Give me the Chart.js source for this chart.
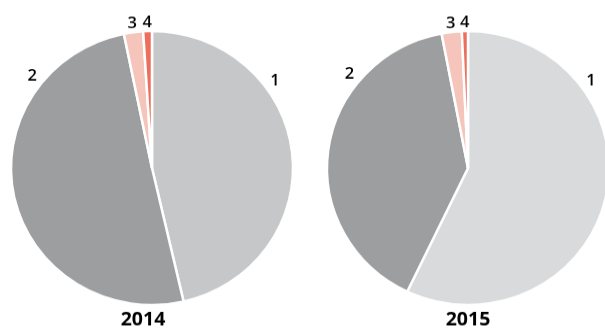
<!DOCTYPE html>
<html>
<head>
<meta charset="utf-8">
<script src="https://cdn.jsdelivr.net/npm/chart.js@4/dist/chart.umd.min.js"></script>
<style>
  html, body { margin: 0; padding: 0; background: #fff; overflow: hidden; width: 605px; height: 329px; }
  .wrap { position: absolute; top: 0; width: 305px; height: 339px; transform: scaleY(0.9714); transform-origin: 0 0; }
  canvas { display: block; }
</style>
</head>
<body>
<div class="wrap" style="left:0"><canvas id="c1" width="305" height="339"></canvas></div>
<div class="wrap" style="left:305px"><canvas id="c2" width="305" height="339"></canvas></div>
<script>
// ---- data ----
const categories = ['1', '2', '3', '4'];
const years = ['2014', '2015'];
const values2014 = [46.4, 50.4, 2.2, 1.0];
const values2015 = [57.1, 39.9, 2.3, 0.7];
const colors2014 = ['#c6c7c9', '#9d9ea0', '#f5c4bb', '#ec6f5e'];
const colors2015 = ['#d9dadc', '#9d9ea0', '#f5c4bb', '#ec6f5e'];

const deg = Math.PI / 180;

const labelPlugin = {
  id: 'sliceLabels',
  afterDatasetsDraw(chart, args, opts) {
    const ctx = chart.ctx;
    const meta = chart.getDatasetMeta(0);
    ctx.save();
    ctx.fillStyle = '#000';
    ctx.font = '600 16.5px "Open Sans", sans-serif';
    ctx.textAlign = 'center';
    ctx.textBaseline = 'middle';
    meta.data.forEach((arc, i) => {
      const p = arc.getProps(['x', 'y', 'startAngle', 'endAngle', 'outerRadius'], true);
      let a, r;
      if (i === 0) { a = p.startAngle + 54 * deg; r = p.outerRadius + 11; }
      else if (i === 1) { a = p.endAngle - 40 * deg; r = p.outerRadius + 12; }
      else { a = (p.startAngle + p.endAngle) / 2; r = p.outerRadius + 9; }
      ctx.fillText(chart.data.labels[i], p.x + Math.cos(a) * r, p.y + Math.sin(a) * r);
    });
    // year title under the pie
    const arc0 = meta.data[0].getProps(['x', 'y', 'outerRadius'], true);
    ctx.font = 'bold 19.5px "Open Sans", sans-serif';
    ctx.fillText(opts.text, arc0.x + (opts.dx || 0), arc0.y + arc0.outerRadius + 15);
    ctx.restore();
  }
};

function makePie(id, values, colors, title, pad, dx) {
  return new Chart(document.getElementById(id), {
    type: 'pie',
    data: {
      labels: categories,
      datasets: [{
        data: values,
        backgroundColor: colors,
        borderColor: '#ffffff',
        borderWidth: 2.5,
        radius: 141
      }]
    },
    options: {
      responsive: false,
      animation: false,
      layout: { padding: pad },
      plugins: {
        legend: { display: false },
        tooltip: { enabled: false },
        title: { display: false },
        sliceLabels: { text: title, dx: dx }
      }
    },
    plugins: [labelPlugin]
  });
}

makePie('c1', values2014, colors2014, years[0], { left: 12, right: 13, top: 33, bottom: 26 }, -9);
makePie('c2', values2015, colors2015, years[1], { left: 23, right: 2, top: 33, bottom: 26 }, 0);
</script>
</body>
</html>
